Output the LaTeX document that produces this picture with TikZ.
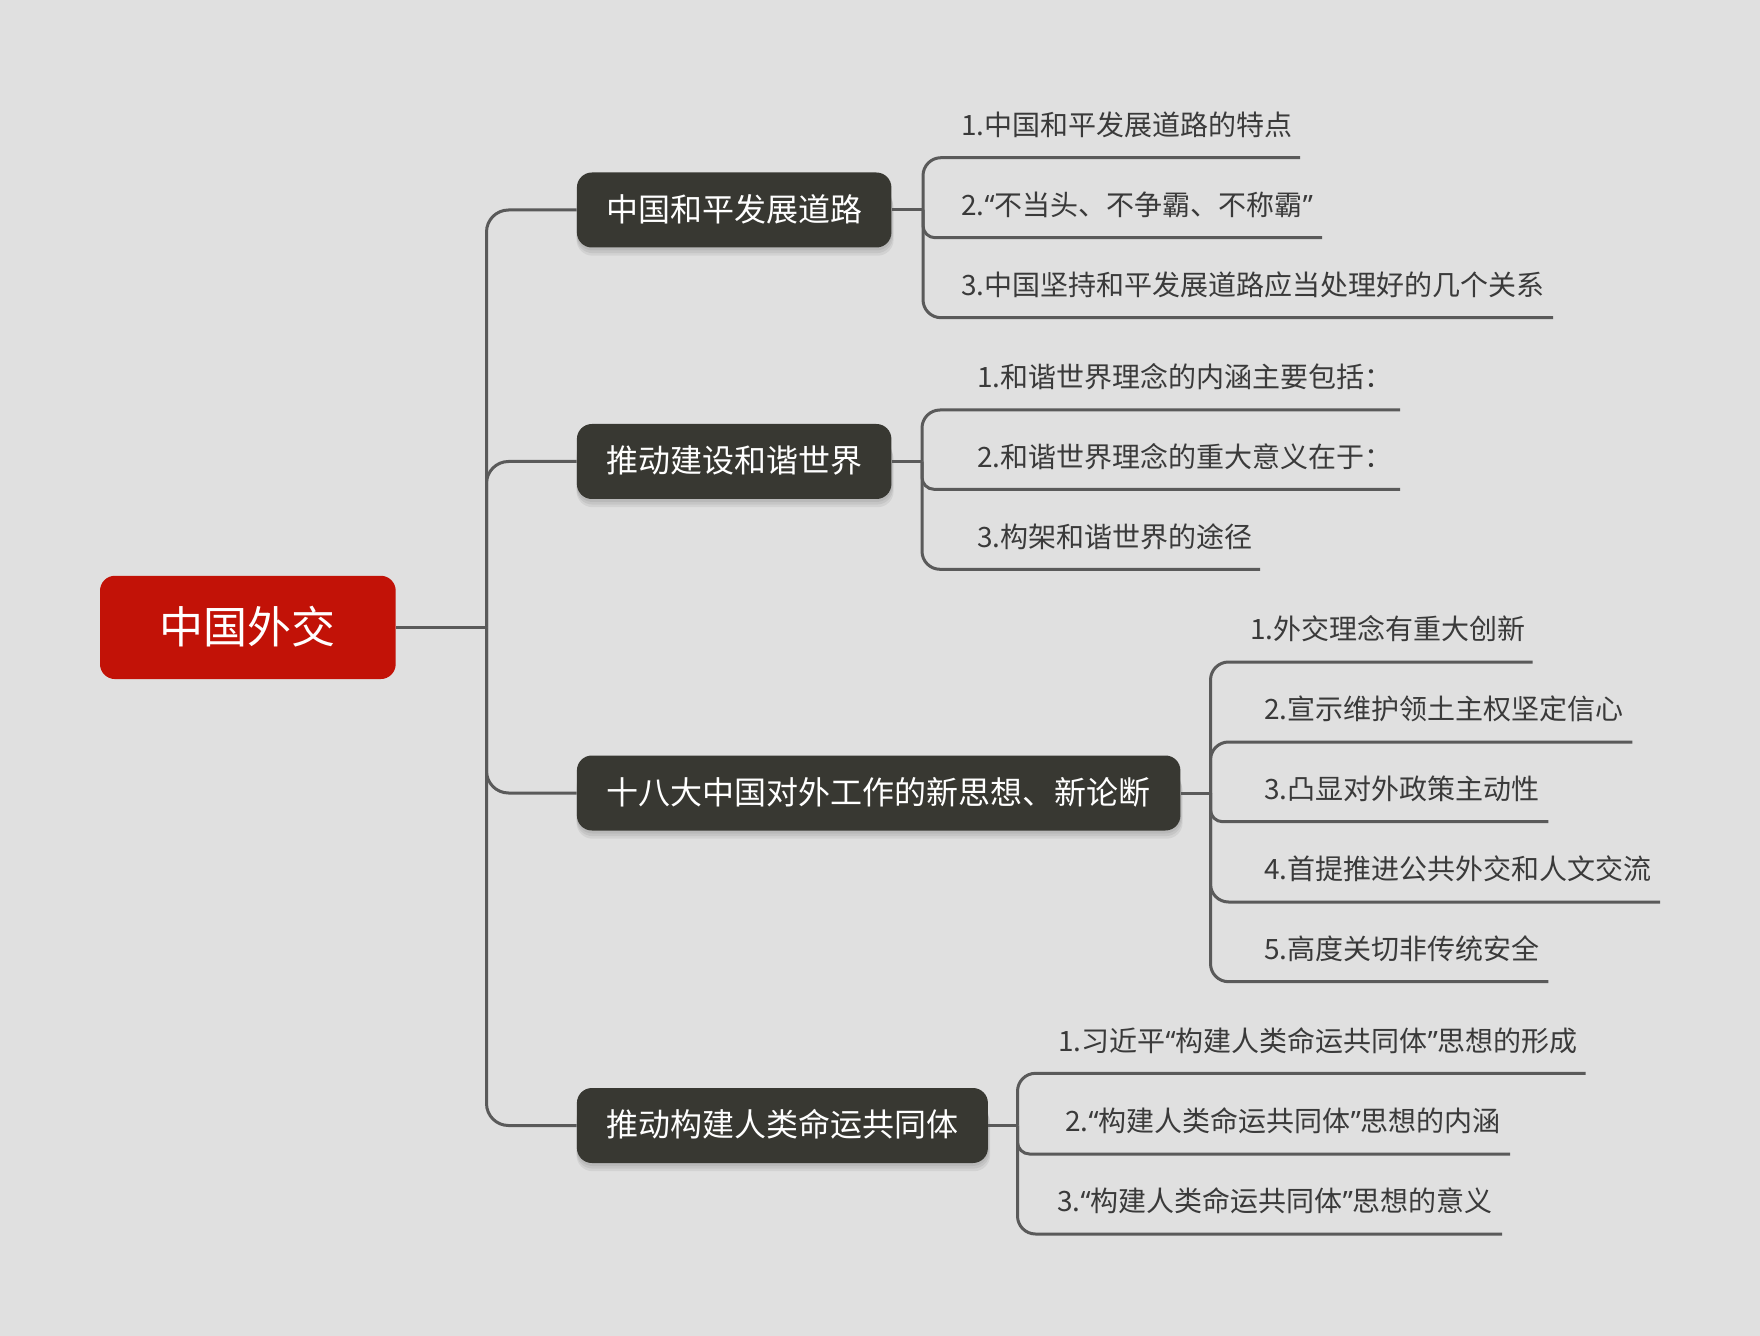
\documentclass[tikz,border=0pt]{standalone}
\usepackage{fontspec}
\setmainfont{Noto Sans CJK SC}
\newfontfamily\qfont{Noto Sans}
\newcommand{\myLQ}{{\qfont “}}
\newcommand{\myRQ}{{\qfont ”}}
\definecolor{bgc}{HTML}{E0E0E0}
\definecolor{rootc}{HTML}{C21207}
\definecolor{branchc}{HTML}{383832}
\definecolor{linec}{HTML}{5A5A5A}
\definecolor{leafc}{HTML}{3A3A3A}
\pgfdeclarelayer{back}
\pgfdeclarelayer{shad}
\pgfsetlayers{back,shad,main}
\begin{document}
\begin{tikzpicture}[x=0.5pt,y=-0.5pt,
  conn/.style={draw=linec, line width=1.5pt},
  rootbox/.style={fill=rootc, rounded corners=7.5pt, text=white, inner sep=0pt,
    font=\fontsize{22pt}{24pt}\selectfont, text height=18pt, text depth=2.2pt},
  branchbox/.style={fill=branchc, rounded corners=7.5pt, text=white, inner sep=0pt,
    minimum height=37.5pt, anchor=west,
    font=\fontsize{16pt}{18pt}\selectfont, text height=13pt, text depth=1.6pt},
  leaf/.style={text=leafc, font=\fontsize{14pt}{16pt}\selectfont, inner sep=0pt, anchor=base west},
  outer/.style={conn, rounded corners=9pt},
  inner/.style={conn, rounded corners=6pt}]
\begin{pgfonlayer}{back}
\fill[bgc] (0,0) rectangle (1760,1336);
\end{pgfonlayer}

% root
\node[rootbox, minimum width=147.85pt, minimum height=51.65pt] (root) at (247.85,627.4) {中国外交};

% branches
\node[branchbox, minimum width=157.25pt] (b1) at (576.5,210) {中国和平发展道路};
\node[branchbox, minimum width=157.25pt] (b2) at (576.5,461.5) {推动建设和谐世界};
\node[branchbox, minimum width=301.75pt] (b3) at (576.5,793) {十八大中国对外工作的新思想、新论断};
\node[branchbox, minimum width=205.5pt] (b4) at (576.5,1125.5) {推动构建人类命运共同体};

\begin{pgfonlayer}{shad}
\foreach \b in {b1,b2,b3,b4}{
  \foreach \d in {1,2,3}{
    \fill[black, opacity=0.06, rounded corners=8pt]
      ([yshift=-\d*1.3pt]\b.south west) rectangle ([xshift=\d*0.3pt, yshift=-\d*1.3pt-6pt]\b.north east);
  }
}
\end{pgfonlayer}

% trunk
\coordinate (J) at (486.5,627.4);
\draw[conn] (root.east) -- (J);
\foreach \b in {b1,b2,b3,b4}{ \draw[conn, rounded corners=11pt] (J) |- (\b.west); }

% group 1
\coordinate (P1) at (923,210);
\draw[conn] (b1.east) -- (P1);
\coordinate (u11) at (1300,157.7);
\coordinate (u12) at (1322,237.7);
\coordinate (u13) at (1553,317.7);
\draw[outer] (P1) |- (u11);
\draw[inner] (P1) |- (u12);
\draw[outer] (P1) |- (u13);
\node[leaf] (t11) at (961,135.5) {1.中国和平发展道路的特点};
\node[leaf] (t12) at (961,215.5) {2.\myLQ 不当头、不争霸、不称霸\myRQ};
\node[leaf] (t13) at (961,295.5) {3.中国坚持和平发展道路应当处理好的几个关系};

% group 2
\coordinate (P2) at (922,461.5);
\draw[conn] (b2.east) -- (P2);
\coordinate (u21) at (1400,410);
\coordinate (u22) at (1400,489.3);
\coordinate (u23) at (1260,569.3);
\draw[outer] (P2) |- (u21);
\draw[inner] (P2) |- (u22);
\draw[outer] (P2) |- (u23);
\node[leaf] (t21) at (977,387.8) {1.和谐世界理念的内涵主要包括：};
\node[leaf] (t22) at (977,467.1) {2.和谐世界理念的重大意义在于：};
\node[leaf] (t23) at (977,547.1) {3.构架和谐世界的途径};

% group 3
\coordinate (P3) at (1210.5,793);
\draw[conn] (b3.east) -- (P3);
\coordinate (u31) at (1532.7,662);
\coordinate (u32) at (1632.3,742);
\coordinate (u33) at (1548.3,821.7);
\coordinate (u34) at (1660,902);
\coordinate (u35) at (1548.3,981.7);
\draw[outer] (P3) |- (u31);
\draw[outer] (P3) |- (u32);
\draw[inner] (P3) |- (u33);
\draw[outer] (P3) |- (u34);
\draw[outer] (P3) |- (u35);
\node[leaf] (t31) at (1250,639.8) {1.外交理念有重大创新};
\node[leaf] (t32) at (1264,719.8) {2.宣示维护领土主权坚定信心};
\node[leaf] (t33) at (1264,799.5) {3.凸显对外政策主动性};
\node[leaf] (t34) at (1264,879.8) {4.首提推进公共外交和人文交流};
\node[leaf] (t35) at (1264,959.5) {5.高度关切非传统安全};

% group 4
\coordinate (P4) at (1017.5,1125.5);
\draw[conn] (b4.east) -- (P4);
\coordinate (u41) at (1585.5,1073.3);
\coordinate (u42) at (1510,1154);
\coordinate (u43) at (1502,1234);
\draw[outer] (P4) |- (u41);
\draw[inner] (P4) |- (u42);
\draw[outer] (P4) |- (u43);
\node[leaf] (t41) at (1058,1051.1) {1.习近平\myLQ 构建人类命运共同体\myRQ 思想的形成};
\node[leaf] (t42) at (1065,1131.8) {2.\myLQ 构建人类命运共同体\myRQ 思想的内涵};
\node[leaf] (t43) at (1057,1211.8) {3.\myLQ 构建人类命运共同体\myRQ 思想的意义};
\end{tikzpicture}
\end{document}
